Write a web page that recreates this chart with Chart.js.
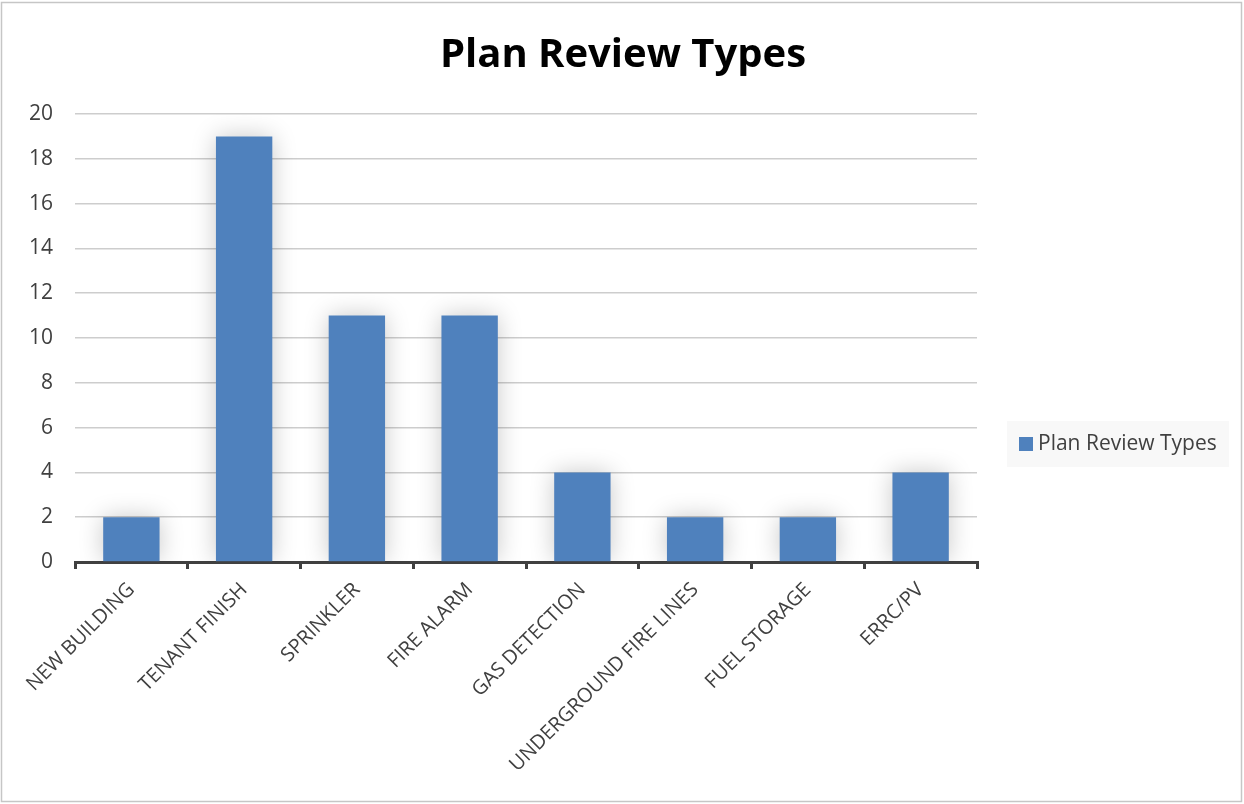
<!DOCTYPE html>
<html>
<head>
<meta charset="utf-8">
<script src="https://cdn.jsdelivr.net/npm/chart.js@4/dist/chart.umd.min.js"></script>
<style>
  body { margin: 0; background: #fff; }
  #wrap { width: 1244px; height: 804px; }
</style>
</head>
<body>
<div id="wrap"><canvas id="chart_types" width="1244" height="804"></canvas></div>
<script>
const categories = ['NEW BUILDING', 'TENANT FINISH', 'SPRINKLER', 'FIRE ALARM',
  'GAS DETECTION', 'UNDERGROUND FIRE LINES', 'FUEL STORAGE', 'ERRC/PV'];
const reviewCounts = [2, 19, 11, 11, 4, 2, 2, 4];
const seriesName = 'Plan Review Types';
const chartTitle = 'Plan Review Types';
const yMin = 0, yMax = 20, yStep = 2;

const barColor = '#4f81bd';
const textColor = '#404040';
const font = 'Open Sans';

// soft glow around the bars, like the office chart effect
const barShadow = {
  id: 'barShadow',
  beforeDatasetsDraw(chart) {
    const ctx = chart.ctx;
    ctx.save();
    ctx.shadowColor = 'rgba(0,0,0,0.22)';
    ctx.shadowBlur = 24;
    ctx.shadowOffsetX = 0;
    ctx.shadowOffsetY = 0;
  },
  afterDatasetsDraw(chart) {
    chart.ctx.restore();
  }
};

// frame, title centred on the whole canvas, legend box on the right
const frameAndLegend = {
  id: 'frameAndLegend',
  afterDraw(chart) {
    const ctx = chart.ctx;
    ctx.save();
    ctx.strokeStyle = '#c6c6c6';
    ctx.lineWidth = 1.5;
    ctx.strokeRect(1.5, 2.5, 1240, 799);

    ctx.fillStyle = '#000';
    ctx.font = 'bold 40px "' + font + '"';
    ctx.textAlign = 'center';
    ctx.textBaseline = 'middle';
    ctx.fillText(chartTitle, chart.width / 2 + 1, 56);

    ctx.fillStyle = '#f8f8f8';
    ctx.fillRect(1007, 421, 222, 46);
    ctx.fillStyle = barColor;
    ctx.fillRect(1019, 437, 14, 14);
    ctx.fillStyle = textColor;
    ctx.font = '21px "' + font + '"';
    ctx.textAlign = 'left';
    ctx.fillText(chart.data.datasets[0].label, 1038, 444);
    ctx.restore();
  }
};

const ctx = document.getElementById('chart_types');
new Chart(ctx, {
  type: 'bar',
  data: {
    labels: categories,
    datasets: [{
      label: seriesName,
      data: reviewCounts,
      backgroundColor: barColor,
      barPercentage: 0.5,
      categoryPercentage: 1.0
    }]
  },
  options: {
    responsive: false,
    animation: false,
    layout: { padding: { left: 10, right: 267, top: 114, bottom: 10 } },
    plugins: {
      legend: { display: false },
      tooltip: { enabled: false },
      title: { display: false }
    },
    scales: {
      x: {
        grid: {
          display: true,
          drawOnChartArea: false,
          drawTicks: true,
          tickLength: 7,
          color: '#404040',
          lineWidth: 3
        },
        border: { display: true, color: '#404040', width: 3 },
        ticks: {
          color: textColor,
          font: { family: font, size: 20 },
          minRotation: 45,
          maxRotation: 45,
          padding: 9
        },
        afterFit(scale) { scale.height = 232; }
      },
      y: {
        min: yMin,
        max: yMax,
        grid: { color: '#cdcdcd', lineWidth: 1.5, drawTicks: false },
        border: { display: false },
        ticks: {
          stepSize: yStep,
          color: textColor,
          font: { family: font, size: 21 },
          padding: 22
        },
        afterFit(scale) { scale.width = 65; }
      }
    }
  },
  plugins: [barShadow, frameAndLegend]
});
</script>
</body>
</html>
